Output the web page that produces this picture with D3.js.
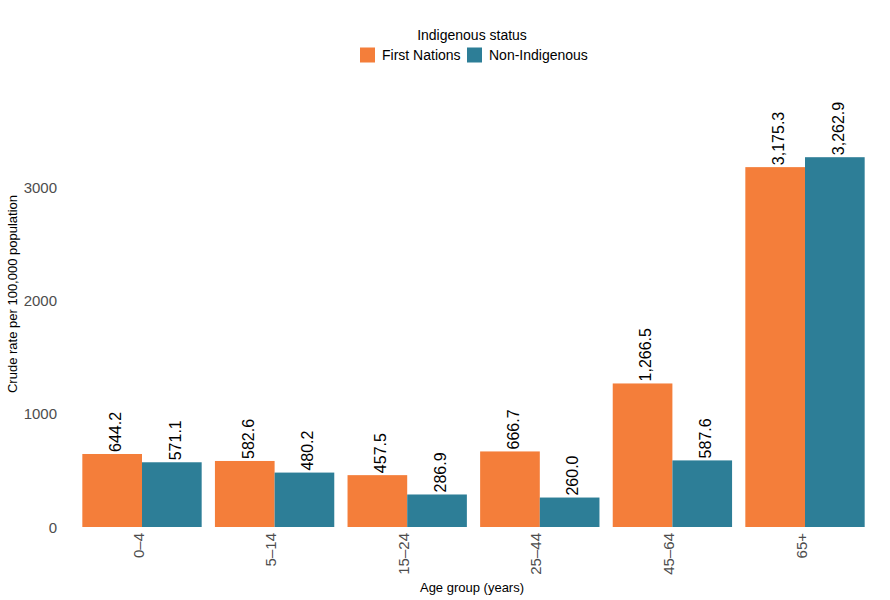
<!DOCTYPE html>
<html>
<head>
<meta charset="utf-8">
<script src="https://cdn.jsdelivr.net/npm/d3@7"></script>
<style>
  body { margin: 0; background: #fff; }
  text { font-family: "Liberation Sans", Arial, sans-serif; }
</style>
</head>
<body>
<svg id="chart" width="890" height="600"></svg>
<script>
// age groups and crude rates (per 100,000)
const ageGroups = ["0–4", "5–14", "15–24", "25–44", "45–64", "65+"];
const statusNames = ["First Nations", "Non-Indigenous"];
const firstNations = [644.2, 582.6, 457.5, 666.7, 1266.5, 3175.3];
const nonIndigenous = [571.1, 480.2, 286.9, 260.0, 587.6, 3262.9];
const yTicks = [0, 1000, 2000, 3000];
const colours = ["#F47E3A", "#2D7E97"];

const svg = d3.select("#chart");
const width = 890, height = 600;

const rows = ageGroups.map(function(g, i) {
    return { group: g, values: [firstNations[i], nonIndigenous[i]] };
});

const x = d3.scaleBand()
    .domain(ageGroups)
    .range([75.7, 871.3])
    .paddingInner(0.1)
    .paddingOuter(0.05);

const xInner = d3.scaleBand()
    .domain(statusNames)
    .range([0, x.bandwidth()]);

const y = d3.scaleLinear()
    .domain([0, 3500])
    .range([527, 527 - 3500 * 340 / 3000]);

const fmt = d3.format(",.1f");

// bars
const groups = svg.append("g").attr("class", "bars")
    .selectAll("g")
    .data(rows)
    .join("g")
    .attr("transform", function(d) { return "translate(" + x(d.group) + ",0)"; });

groups.selectAll("rect")
    .data(function(d) { return d.values.map(function(v, j) { return { name: statusNames[j], value: v, idx: j }; }); })
    .join("rect")
    .attr("x", function(d) { return xInner(d.name); })
    .attr("y", function(d) { return y(d.value); })
    .attr("width", xInner.bandwidth())
    .attr("height", function(d) { return y(0) - y(d.value); })
    .attr("fill", function(d) { return colours[d.idx]; });

// value labels
groups.selectAll("text")
    .data(function(d) { return d.values.map(function(v, j) { return { name: statusNames[j], value: v }; }); })
    .join("text")
    .attr("transform", function(d) {
        return "translate(" + (xInner(d.name) + xInner.bandwidth() / 2) + "," + y(d.value) + ") rotate(-90)";
    })
    .attr("dx", 2)
    .attr("dy", "0.55em")
    .attr("text-anchor", "start")
    .style("font-size", "16px")
    .style("fill", "#000")
    .text(function(d) { return fmt(d.value); });

// y axis
const yAxis = svg.append("g")
    .attr("transform", "translate(57,0)")
    .call(d3.axisLeft(y).tickValues(yTicks).tickSize(0).tickPadding(0).tickFormat(d3.format("d")));
yAxis.select(".domain").remove();
yAxis.selectAll("text")
    .style("font-size", "15px")
    .style("fill", "#4d4d4d")
    .attr("dy", "0.35em");

// x axis
const xAxis = svg.append("g")
    .attr("transform", "translate(0,527)")
    .call(d3.axisBottom(x).tickSize(0).tickPadding(0));
xAxis.select(".domain").remove();
xAxis.selectAll("text")
    .attr("transform", "rotate(-90)")
    .attr("x", -6)
    .attr("y", 0)
    .attr("dy", "0.1em")
    .attr("text-anchor", "end")
    .style("font-size", "15px")
    .style("fill", "#4d4d4d");

// axis titles
svg.append("text")
    .attr("x", 472)
    .attr("y", 592)
    .attr("text-anchor", "middle")
    .style("font-size", "13px")
    .text("Age group (years)");

svg.append("text")
    .attr("transform", "translate(17,294) rotate(-90)")
    .attr("text-anchor", "middle")
    .style("font-size", "13px")
    .text("Crude rate per 100,000 population");

// legend
const legend = svg.append("g");
legend.append("text")
    .attr("x", 472)
    .attr("y", 40)
    .attr("text-anchor", "middle")
    .style("font-size", "14px")
    .text("Indigenous status");

const legendX = [360, 467];
statusNames.forEach(function(name, i) {
    legend.append("rect")
        .attr("x", legendX[i])
        .attr("y", 47.5)
        .attr("width", 15)
        .attr("height", 15)
        .attr("fill", colours[i]);
    legend.append("text")
        .attr("x", legendX[i] + 22)
        .attr("y", 60)
        .style("font-size", "14px")
        .text(name);
});
</script>
</body>
</html>
